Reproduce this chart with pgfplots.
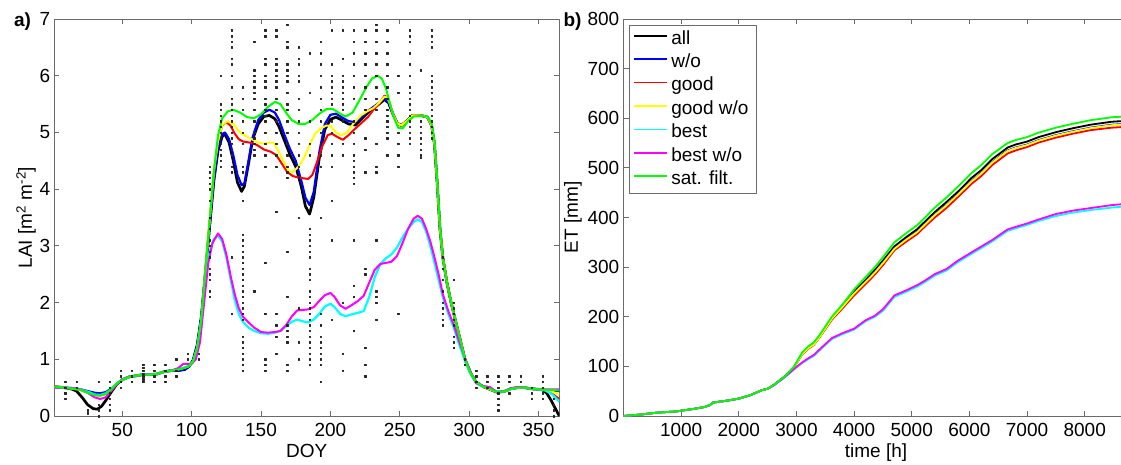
\documentclass[border=0pt]{standalone}
\usepackage{fontspec}
\setmainfont{Liberation Sans}
\usepackage{pgfplots}
\usepackage{pgfplotstable}
\pgfplotsset{compat=1.18}
\definecolor{axgray}{gray}{0.42}
\definecolor{mgreen}{rgb}{0,1,0}
\definecolor{myellow}{rgb}{1,1,0}
\definecolor{mcyan}{rgb}{0,1,1}
\definecolor{mmag}{rgb}{1,0,1}
\definecolor{mblue}{rgb}{0,0,1}
\definecolor{mred}{rgb}{1,0,0}

\pgfplotstableread{
t sat all wo good goodwo best bestwo
0 0 0 0 0 0 0 0
300 3 3 3 3 3 3 3
600 7 7 7 7 7 7 7
900 9 9 9 9 9 9 9
1200 14 14 14 14 14 14 14
1400 18 18 18 18 18 18 18
1500 22 22 22 22 22 22 22
1550 27 27 27 27 27 27 27
1800 31 31 31 31 31 31 31
2000 35 35 35 35 35 35 35
2200 42 42 42 42 42 42 42
2400 52 52 52 52 52 52 52
2500 55 55 55 55 55 55 55
2600 62 62 62 62 62 61 61
2800 80 80 80 79 79 78 79
2960 100 99 99 98 98 94 95
3100 128 126 126 124 125 107 108
3200 140 137 137 135 136 114 116
3300 148 145 145 143 144 121 123
3400 163 160 160 158 159 132 134
3614 200 196 197 194 196 155 157
3800 225 221 221 217 220 165 167
4000 255 250 248 243 247 174 176
4200 280 274 271 266 270 191 193
4360 300 294 290 285 289 200 202
4500 320 313 309 304 308 212 215
4700 350 342 338 334 337 240 243
4900 368 360 356 351 355 250 253
5100 385 377 372 367 371 261 264
5231 400 392 387 382 386 270 273
5400 420 411 406 400 405 283 286
5600 440 431 425 419 424 293 296
5800 462 452 447 441 446 310 313
6040 490 480 474 468 473 327 330
6200 505 495 489 483 488 338 341
6400 528 518 512 506 511 352 355
6663 550 541 535 529 534 373 376
6800 556 547 541 535 540 378 381
7000 562 553 547 542 546 385 388
7200 571 562 556 551 555 393 396
7500 581 572 566 561 565 403 407
7800 589 580 574 569 573 410 414
8100 596 587 581 576 580 415 419
8470 602 593 587 581 586 420 425
8760 604 595 589 583 588 423 428
}\etdata

\pgfplotsset{mystyle/.style={
  width=505pt, height=397pt, scale only axis,
  axis line style={axgray, line width=0.8pt},
  every tick/.style={axgray, line width=0.8pt},
  major tick length=5pt,
  tick align=inside,
  scaled ticks=false,
  /pgf/number format/assume math mode=true,
  /pgf/number format/set thousands separator={},
  tick label style={font=\fontsize{19}{22}\selectfont, black},
  label style={font=\fontsize{19}{22}\selectfont},
  yticklabel style={inner xsep=4pt},
  xticklabel style={yshift=-3.5pt},
  xlabel style={at={(axis description cs:0.5,0)}, anchor=base, yshift=-41pt},
  line join=round,
}}

\begin{document}
\begin{tikzpicture}
\begin{axis}[mystyle, at={(0pt,0pt)}, anchor=south west,
  xmin=1, xmax=365, ymin=0, ymax=7,
  xtick={50,100,...,350}, ytick={0,1,...,7},
  xlabel={DOY},
  ylabel={LAI [m\textsuperscript{2} m\textsuperscript{-2}]},
  ylabel style={at={(axis description cs:-0.056,0.5)}, anchor=center, rotate=0},
]
\addplot[only marks, mark=square*, mark size=0.7pt, black!85] table[row sep=\\] {
x y\\
9 0.6\\ 9 0.5\\ 9 0.4\\ 9 0.3\\
17 0.6\\ 17 0.5\\
25 0.1\\ 25 0.05\\
33 0.6\\ 33 0.2\\ 33 0.1\\ 33 0.0\\
41 0.6\\ 41 0.5\\ 41 0.4\\ 41 0.3\\ 41 0.2\\ 41 0.1\\
49 0.8\\ 49 0.7\\ 49 0.6\\ 49 0.5\\
57 0.8\\ 57 0.7\\ 57 0.6\\
65 0.9\\ 65 0.85\\ 65 0.8\\ 65 0.75\\ 65 0.7\\ 65 0.65\\ 65 0.6\\
73 0.9\\ 73 0.8\\ 73 0.7\\ 73 0.6\\
81 0.9\\ 81 0.8\\ 81 0.7\\ 81 0.6\\
89 1.0\\ 89 0.8\\ 89 0.7\\
97 1.1\\ 97 1.0\\
105 1.1\\ 105 1.0\\
113 4.4\\ 113 4.3\\ 113 4.2\\ 113 4.1\\ 113 4.0\\ 113 3.8\\ 113 3.5\\ 113 3.3\\ 113 3.1\\ 113 3.0\\ 113 2.9\\ 113 2.8\\ 113 2.6\\ 113 2.5\\ 113 2.4\\ 113 2.2\\ 113 2.1\\
121 6.0\\ 121 5.5\\ 121 5.4\\ 121 5.3\\ 121 5.2\\ 121 5.1\\ 121 5.0\\ 121 4.9\\ 121 4.8\\ 121 4.7\\ 121 4.6\\ 121 4.5\\ 121 4.4\\
129 6.8\\ 129 6.7\\ 129 6.6\\ 129 6.5\\ 129 6.3\\ 129 6.2\\ 129 6.0\\ 129 5.8\\ 129 5.6\\ 129 5.5\\ 129 5.4\\ 129 5.3\\ 129 5.2\\ 129 5.1\\ 129 5.0\\ 129 4.9\\ 129 4.8\\ 129 4.7\\ 129 4.6\\ 129 4.4\\ 129 4.3\\ 129 2.8\\ 129 1.8\\
137 5.8\\ 137 5.6\\ 137 5.4\\ 137 5.2\\ 137 5.0\\ 137 4.8\\ 137 4.4\\ 137 4.3\\ 137 3.8\\ 137 3.2\\ 137 3.1\\ 137 3.0\\ 137 2.9\\ 137 2.8\\ 137 2.7\\ 137 2.6\\ 137 2.5\\ 137 2.4\\ 137 2.3\\ 137 2.2\\ 137 2.1\\ 137 2.0\\ 137 1.9\\ 137 1.8\\ 137 1.7\\ 137 1.4\\ 137 1.3\\ 137 1.2\\ 137 1.1\\ 137 1.0\\ 137 0.9\\ 137 0.8\\
145 6.6\\ 145 6.1\\ 145 6.0\\ 145 5.9\\ 145 5.8\\ 145 5.7\\ 145 5.6\\ 145 5.4\\ 145 5.2\\ 145 5.0\\ 145 4.9\\ 145 4.8\\ 145 4.7\\ 145 4.6\\ 145 2.2\\
153 6.8\\ 153 6.7\\ 153 6.3\\ 153 6.2\\ 153 6.0\\ 153 5.9\\ 153 5.8\\ 153 5.6\\ 153 5.5\\ 153 5.4\\ 153 5.3\\ 153 5.2\\ 153 5.0\\ 153 4.8\\ 153 4.6\\ 153 4.4\\ 153 2.7\\ 153 1.8\\ 153 1.0\\ 153 0.9\\ 153 0.8\\
161 6.8\\ 161 6.7\\ 161 6.3\\ 161 6.2\\ 161 6.1\\ 161 6.0\\ 161 5.9\\ 161 5.8\\ 161 5.6\\ 161 5.4\\ 161 5.2\\ 161 5.0\\ 161 4.8\\ 161 4.6\\ 161 4.4\\ 161 3.6\\ 161 1.8\\ 161 1.6\\ 161 1.4\\ 161 1.1\\
169 6.9\\ 169 6.6\\ 169 6.5\\ 169 6.2\\ 169 6.1\\ 169 6.0\\ 169 5.9\\ 169 5.7\\ 169 5.5\\ 169 5.4\\ 169 5.2\\ 169 5.0\\ 169 4.8\\ 169 4.6\\ 169 4.4\\ 169 4.3\\ 169 4.2\\ 169 2.9\\ 169 2.1\\ 169 1.6\\ 169 1.5\\ 169 1.4\\ 169 1.3\\ 169 0.9\\ 169 0.8\\
177 6.5\\ 177 6.3\\ 177 6.2\\ 177 6.0\\ 177 5.9\\ 177 5.6\\ 177 5.4\\ 177 5.2\\ 177 5.0\\ 177 4.8\\ 177 4.6\\ 177 4.4\\ 177 4.2\\ 177 3.5\\ 177 1.9\\ 177 1.3\\ 177 1.0\\
185 6.4\\ 185 5.7\\ 185 5.2\\ 185 4.8\\ 185 4.6\\ 185 3.3\\ 185 3.2\\ 185 3.1\\ 185 3.0\\ 185 2.9\\ 185 2.8\\ 185 2.6\\ 185 2.5\\ 185 2.4\\ 185 2.2\\ 185 2.1\\ 185 2.0\\ 185 1.9\\ 185 1.8\\ 185 1.7\\ 185 1.6\\ 185 1.5\\ 185 1.4\\ 185 1.3\\ 185 1.2\\ 185 1.1\\ 185 1.0\\ 185 0.9\\
193 6.6\\ 193 6.4\\ 193 6.2\\ 193 6.0\\ 193 5.8\\ 193 5.6\\ 193 5.4\\ 193 5.2\\ 193 5.0\\ 193 4.8\\ 193 4.6\\ 193 4.4\\ 193 3.5\\ 193 1.8\\ 193 1.6\\ 193 1.4\\ 193 1.3\\ 193 1.2\\ 193 1.1\\ 193 1.0\\ 193 0.9\\ 193 0.6\\
201 6.8\\ 201 6.2\\ 201 6.0\\ 201 5.9\\ 201 5.8\\ 201 5.7\\ 201 5.6\\ 201 5.5\\ 201 5.2\\ 201 5.0\\ 201 4.8\\ 201 4.6\\ 201 4.4\\ 201 3.8\\ 201 3.1\\ 201 1.7\\
209 6.8\\ 209 6.3\\ 209 6.0\\ 209 5.9\\ 209 5.8\\ 209 5.7\\ 209 5.6\\ 209 5.5\\ 209 5.4\\ 209 5.2\\ 209 4.8\\ 209 4.6\\ 209 2.0\\ 209 1.1\\ 209 0.8\\
217 6.8\\ 217 6.6\\ 217 6.4\\ 217 6.2\\ 217 6.0\\ 217 5.8\\ 217 5.6\\ 217 5.2\\ 217 5.0\\ 217 4.8\\ 217 4.6\\ 217 4.5\\ 217 4.4\\ 217 4.3\\ 217 4.2\\ 217 4.1\\ 217 3.1\\ 217 2.3\\ 217 2.1\\ 217 1.5\\
225 6.8\\ 225 6.6\\ 225 6.4\\ 225 6.2\\ 225 6.0\\ 225 5.8\\ 225 5.6\\ 225 5.4\\ 225 4.9\\ 225 4.7\\ 225 4.3\\ 225 2.6\\ 225 2.5\\ 225 1.2\\ 225 0.9\\ 225 0.7\\
233 6.9\\ 233 6.8\\ 233 6.6\\ 233 6.4\\ 233 6.2\\ 233 6.0\\ 233 5.8\\ 233 5.6\\ 233 5.4\\ 233 4.8\\ 233 4.4\\ 233 4.3\\ 233 3.1\\ 233 2.2\\ 233 2.1\\ 233 2.0\\ 233 1.7\\
241 6.8\\ 241 6.6\\ 241 6.4\\ 241 6.2\\ 241 6.0\\ 241 5.8\\ 241 5.6\\ 241 5.4\\ 241 5.3\\ 241 5.2\\ 241 5.1\\ 241 5.0\\ 241 4.9\\ 241 4.6\\
249 6.0\\ 249 5.7\\ 249 5.0\\ 249 4.8\\ 249 4.6\\ 249 4.4\\ 249 1.8\\
257 6.8\\ 257 6.7\\ 257 6.6\\ 257 6.4\\ 257 6.2\\ 257 6.0\\ 257 5.8\\ 257 5.7\\ 257 5.6\\ 257 5.5\\ 257 5.4\\ 257 5.3\\ 257 5.2\\ 257 5.1\\ 257 5.0\\ 257 4.9\\ 257 4.8\\
265 6.1\\ 265 5.2\\ 265 5.1\\ 265 5.0\\ 265 4.9\\ 265 4.8\\ 265 4.7\\ 265 4.6\\ 265 4.55\\
273 6.8\\ 273 6.7\\ 273 6.6\\ 273 6.5\\ 273 6.0\\ 273 5.9\\ 273 5.8\\ 273 5.7\\ 273 5.6\\ 273 5.5\\ 273 5.4\\ 273 5.3\\ 273 5.2\\ 273 5.1\\ 273 5.0\\ 273 4.9\\
281 2.8\\ 281 2.6\\ 281 2.4\\ 281 2.2\\ 281 2.0\\ 281 1.9\\ 281 1.8\\ 281 1.7\\ 281 1.6\\
289 2.4\\ 289 2.0\\ 289 1.9\\ 289 1.8\\ 289 1.7\\ 289 1.6\\ 289 1.4\\ 289 1.3\\ 289 1.2\\
297 1.0\\ 297 0.9\\
305 0.8\\ 305 0.7\\ 305 0.6\\ 305 0.5\\
313 0.7\\ 313 0.6\\ 313 0.5\\
321 0.7\\ 321 0.6\\ 321 0.5\\ 321 0.4\\ 321 0.3\\ 321 0.2\\ 321 0.1\\
329 0.7\\ 329 0.6\\ 329 0.4\\
337 0.7\\ 337 0.6\\
345 0.5\\ 345 0.4\\ 345 0.3\\
353 0.7\\ 353 0.6\\ 353 0.5\\ 353 0.4\\ 353 0.3\\
361 0.3\\ 361 0.2\\ 361 0.1\\ 361 0.0\\
};
% all (black)
\addplot[black, line width=2.7pt] coordinates {
(1,0.52)(8,0.5)(13,0.48)(17,0.44)(21,0.33)(25,0.2)(29,0.13)(32,0.12)(35,0.17)(38,0.27)(42,0.42)(46,0.56)(50,0.64)(55,0.69)(60,0.71)(65,0.73)(70,0.73)(75,0.74)(80,0.78)(85,0.8)(90,0.8)(95,0.82)(98,0.87)(101,0.98)(104,1.25)(107,1.75)(110,2.55)(113,3.35)
(116,4.15)(119,4.68)(122,4.93)(124,4.97)(127,4.82)(130,4.5)(133,4.12)(136,3.96)(138,4.05)(141,4.45)(144,4.88)(148,5.15)(152,5.28)(156,5.3)(160,5.24)(163,5.1)(167,4.85)(171,4.6)(175,4.4)(179,4.05)(182,3.7)(185,3.56)(188,3.85)(192,4.55)(196,5.05)(200,5.23)(204,5.27)(208,5.22)(213,5.15)(218,5.13)(223,5.25)(227,5.35)(231,5.43)(235,5.5)(239,5.58)
(242,5.52)(245,5.33)(248,5.17)(251,5.12)(255,5.2)(259,5.3)(265,5.3)(270,5.27)(273,5.12)(275,4.8)(277,4.1)(279,3.3)(281,2.8)(284,2.35)(287,2.0)(290,1.7)(293,1.4)(297,1.0)(301,0.76)(305,0.6)(310,0.52)(315,0.47)(320,0.42)(325,0.43)(330,0.48)(335,0.5)(340,0.5)(345,0.48)(350,0.47)(353,0.46)(356,0.4)(359,0.28)(362,0.14)(365,0.0)
};
% w/o (blue)
\addplot[mblue, line width=2.2pt] coordinates {
(1,0.51)(8,0.5)(15,0.49)(20,0.47)(25,0.44)(30,0.41)(34,0.4)(38,0.42)(42,0.48)(46,0.57)(50,0.64)(55,0.69)(60,0.71)(65,0.73)(70,0.73)(75,0.74)(80,0.78)(85,0.8)(90,0.8)(95,0.82)(98,0.87)(101,0.98)(104,1.25)(107,1.75)(110,2.55)(113,3.35)
(116,4.15)(119,4.7)(122,4.97)(124,5.0)(127,4.88)(130,4.6)(133,4.25)(136,4.07)(138,4.1)(141,4.5)(144,4.92)(148,5.22)(152,5.35)(156,5.4)(160,5.35)(163,5.22)(167,4.95)(171,4.7)(175,4.5)(179,4.15)(182,3.85)(185,3.72)(188,3.95)(192,4.65)(196,5.15)(200,5.31)(204,5.33)(208,5.27)(213,5.2)(218,5.18)(223,5.28)(227,5.38)(231,5.45)(235,5.52)(239,5.6)
(242,5.52)(245,5.33)(248,5.17)(251,5.12)(255,5.2)(259,5.3)(265,5.3)(270,5.27)(273,5.12)(275,4.8)(277,4.1)(279,3.3)(281,2.8)(284,2.35)(287,2.0)(290,1.7)(293,1.4)(297,1.0)(301,0.76)(305,0.6)(310,0.52)(315,0.47)(320,0.42)(325,0.43)(330,0.48)(335,0.5)(340,0.5)(345,0.48)(350,0.47)(355,0.46)(360,0.45)(365,0.44)
};
% good (red)
\addplot[mred, line width=2pt] coordinates {
(1,0.52)(8,0.5)(15,0.48)(20,0.46)(25,0.41)(30,0.37)(34,0.36)(38,0.39)(42,0.47)(46,0.57)(50,0.64)(55,0.69)(60,0.71)(65,0.73)(70,0.73)(75,0.74)(80,0.78)(85,0.8)(90,0.82)(95,0.85)(98,0.88)(101,0.96)(104,1.2)(107,1.7)(110,2.6)(113,3.45)
(116,4.3)(119,4.85)(122,5.12)(125,5.18)(128,5.12)(131,4.98)(134,4.88)(137,4.84)(142,4.82)(147,4.78)(152,4.7)(157,4.66)(161,4.6)(165,4.45)(169,4.3)(173,4.23)(178,4.2)(184,4.18)(187,4.25)(190,4.45)(194,4.75)(198,4.95)(201,4.98)(205,4.92)(209,4.87)(213,4.95)(218,5.07)(223,5.18)(227,5.27)(231,5.4)(235,5.5)(239,5.65)(241,5.62)(243,5.5)
(245,5.33)(248,5.17)(251,5.12)(255,5.2)(259,5.3)(265,5.3)(270,5.27)(273,5.12)(275,4.8)(277,4.1)(279,3.3)(281,2.8)(284,2.35)(287,2.0)(290,1.7)(293,1.4)(297,1.0)(301,0.76)(305,0.6)(310,0.52)(315,0.47)(320,0.42)(325,0.43)(330,0.48)(335,0.5)(340,0.5)(345,0.48)(350,0.47)(355,0.45)(360,0.39)(365,0.3)
};
% good w/o (yellow)
\addplot[myellow, line width=2pt] coordinates {
(1,0.52)(8,0.5)(15,0.48)(20,0.46)(25,0.41)(30,0.37)(34,0.36)(38,0.39)(42,0.47)(46,0.57)(50,0.64)(55,0.69)(60,0.71)(65,0.73)(70,0.73)(75,0.74)(80,0.78)(85,0.8)(90,0.82)(95,0.85)(98,0.88)(101,0.96)(104,1.2)(107,1.7)(110,2.6)(113,3.45)
(116,4.3)(119,4.85)(122,5.13)(126,5.2)(130,5.15)(134,5.02)(138,4.95)(142,4.9)(147,4.83)(152,4.8)(156,4.82)(159,4.82)(162,4.7)(166,4.5)(170,4.32)(173,4.3)(177,4.4)(181,4.55)(185,4.78)(189,4.98)(193,5.07)(197,5.12)(200,5.12)(204,5.0)(208,4.95)(212,5.0)(217,5.17)(222,5.3)(227,5.38)(231,5.43)(235,5.52)(239,5.63)(241,5.62)(243,5.5)
(245,5.33)(248,5.17)(251,5.12)(255,5.2)(259,5.3)(265,5.3)(270,5.27)(273,5.12)(275,4.8)(277,4.1)(279,3.3)(281,2.8)(284,2.35)(287,2.0)(290,1.7)(293,1.4)(297,1.0)(301,0.76)(305,0.6)(310,0.52)(315,0.47)(320,0.42)(325,0.43)(330,0.48)(335,0.5)(340,0.5)(345,0.48)(350,0.47)(355,0.46)(360,0.43)(365,0.38)
};
% best (cyan)
\addplot[mcyan, line width=2.2pt] coordinates {
(1,0.5)(8,0.5)(15,0.49)(20,0.47)(25,0.43)(30,0.38)(34,0.37)(38,0.4)(42,0.47)(46,0.57)(50,0.64)(55,0.69)(60,0.71)(65,0.73)(70,0.73)(75,0.74)(80,0.78)(85,0.8)(90,0.82)(95,0.86)(98,0.88)(101,0.96)(104,1.2)(107,1.7)(110,2.45)(113,2.9)(116,3.12)(119,3.18)(122,3.08)(125,2.8)(128,2.42)(131,2.05)(134,1.8)(137,1.66)(141,1.56)(145,1.5)(150,1.46)(155,1.45)(160,1.47)(164,1.5)(168,1.58)(172,1.66)(176,1.7)(180,1.67)(184,1.65)(188,1.7)(192,1.8)(196,1.93)(200,1.98)(203,1.92)(207,1.8)(211,1.76)(215,1.79)(220,1.82)(224,1.85)(228,2.1)(232,2.45)(236,2.68)(240,2.78)(244,2.85)(248,2.97)(252,3.15)(256,3.3)(260,3.42)(263,3.47)(266,3.42)(269,3.25)(272,3.0)(275,2.7)(278,2.4)(281,2.1)(285,1.8)(289,1.55)(293,1.25)(297,0.98)(301,0.75)(305,0.58)(310,0.52)(315,0.5)(320,0.43)(325,0.43)(330,0.48)(335,0.5)(340,0.5)(345,0.48)(350,0.47)(355,0.45)(360,0.38)(365,0.25)
};
% best w/o (magenta)
\addplot[mmag, line width=2pt] coordinates {
(1,0.5)(8,0.5)(15,0.49)(20,0.47)(25,0.41)(30,0.33)(34,0.3)(38,0.33)(42,0.44)(46,0.56)(50,0.65)(55,0.69)(60,0.71)(65,0.73)(70,0.73)(75,0.74)(80,0.78)(85,0.8)(90,0.84)(94,0.92)(97,0.92)(100,0.92)(103,1.0)(106,1.3)(109,2.0)(112,2.7)(115,3.05)(119,3.22)(122,3.12)(125,2.85)(128,2.48)(131,2.15)(134,1.9)(137,1.75)(141,1.65)(145,1.56)(150,1.48)(155,1.47)(160,1.48)(164,1.5)(168,1.6)(172,1.75)(176,1.86)(180,1.87)(184,1.88)(188,1.92)(192,2.03)(196,2.13)(200,2.17)(203,2.1)(207,1.95)(211,1.89)(215,1.95)(220,2.03)(224,2.12)(228,2.35)(232,2.58)(236,2.68)(240,2.7)(244,2.72)(248,2.82)(252,3.05)(256,3.3)(260,3.48)(263,3.53)(266,3.48)(269,3.3)(272,3.08)(275,2.8)(278,2.5)(281,2.15)(285,1.85)(289,1.6)(293,1.3)(297,1.02)(301,0.78)(305,0.58)(310,0.53)(315,0.51)(320,0.42)(325,0.43)(330,0.49)(335,0.51)(340,0.5)(345,0.48)(350,0.47)(355,0.47)(360,0.47)(365,0.47)
};
% sat. filt. (green)
\addplot[mgreen, line width=2pt] coordinates {
(1,0.52)(8,0.5)(15,0.48)(20,0.46)(25,0.41)(30,0.37)(34,0.36)(38,0.39)(42,0.47)(46,0.57)(50,0.64)(55,0.69)(60,0.71)(65,0.73)(70,0.73)(75,0.74)(80,0.78)(85,0.8)(90,0.82)(95,0.85)(98,0.88)(101,0.96)(104,1.2)(107,1.7)(110,2.6)(113,3.45)(116,4.3)(119,4.95)(122,5.25)(126,5.37)(130,5.4)(135,5.35)(140,5.27)(145,5.25)(150,5.32)(155,5.45)(160,5.54)(164,5.5)(168,5.35)(172,5.22)(177,5.15)(182,5.15)(187,5.22)(192,5.33)(197,5.41)(202,5.41)(207,5.33)(211,5.28)(216,5.35)(221,5.57)(226,5.8)(230,5.95)(234,6.0)(237,5.95)(240,5.78)(243,5.5)(246,5.25)(249,5.08)(252,5.07)(256,5.2)(260,5.28)(265,5.29)(270,5.28)(273,5.15)(275,4.85)(277,4.15)(279,3.35)(281,2.8)(284,2.35)(287,2.0)(290,1.7)(293,1.4)(297,1.0)(301,0.76)(305,0.6)(310,0.52)(315,0.48)(320,0.42)(325,0.43)(330,0.48)(335,0.5)(340,0.5)(345,0.48)(350,0.47)(355,0.46)(360,0.46)(365,0.45)
};
\end{axis}

\begin{axis}[mystyle, at={(569.2pt,0pt)}, anchor=south west,
  xmin=0, xmax=8760, ymin=0, ymax=800,
  xtick={1000,2000,...,8000}, ytick={0,100,...,800},
  xlabel={time [h]},
  ylabel={ET [mm]},
  ylabel style={at={(axis description cs:-0.100,0.5)}, anchor=center},
  legend cell align=left,
  legend style={at={(axis description cs:0.011,0.985)}, anchor=north west,
    draw=axgray, line width=0.8pt, fill=white,
    inner xsep=4pt, inner ysep=2pt, row sep=0pt,
    font=\fontsize{19}{22}\selectfont,
    nodes={inner xsep=3.7pt, inner ysep=2.2pt, text height=14.5pt, text depth=4.5pt}},
  legend image code/.code={\draw[#1, line width=1.6pt] (0pt,0.33em) -- (32.6pt,0.33em);},
]
\addplot[black, line width=1.8pt] table[x=t, y=all] {\etdata};
\addplot[mblue, line width=1.8pt] table[x=t, y=wo] {\etdata};
\addplot[mred, line width=1.8pt] table[x=t, y=good] {\etdata};
\addplot[myellow, line width=1.8pt] table[x=t, y=goodwo] {\etdata};
\addplot[mcyan, line width=1.8pt] table[x=t, y=best] {\etdata};
\addplot[mmag, line width=1.8pt] table[x=t, y=bestwo] {\etdata};
\addplot[mgreen, line width=1.8pt] table[x=t, y=sat] {\etdata};
\legend{all, w/o, good, good w/o, best, best w/o, sat. filt.}
\end{axis}

\node[font=\fontsize{19}{22}\selectfont\bfseries, anchor=center] at (-31.8pt,394.5pt) {a)};
\node[font=\fontsize{19}{22}\selectfont\bfseries, anchor=center] at (518.2pt,394.5pt) {b)};

\pgfresetboundingbox
\path[use as bounding box] (-54.3pt,-48pt) rectangle (1066.7pt,416pt);
\end{tikzpicture}
\end{document}
